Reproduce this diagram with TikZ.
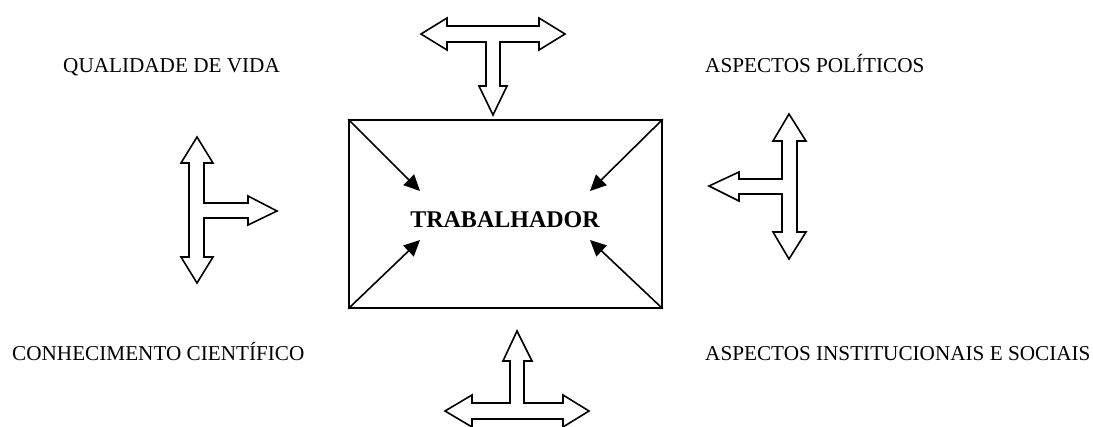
\documentclass[tikz,border=0pt]{standalone}
\usepackage{fontspec}
\setmainfont{Liberation Serif}
\usetikzlibrary{arrows.meta}
\begin{document}
\begin{tikzpicture}[x=1pt,y=-1pt,
  tarrow/.style={draw=black,line width=1.6pt,line join=miter,fill=white},
  lbl/.style={anchor=base west,inner sep=0pt,font=\fontsize{21.2}{25}\selectfont},
  diag/.style={line width=1.6pt,-{Triangle[length=16pt,width=15pt]}},
  mainbox/.style={draw=black,line width=1.6pt,inner sep=0pt,minimum width=313pt,minimum height=188pt}]
\useasboundingbox (0,0) rectangle (1093,426);
% labels
\node[lbl] (qv) at (63,72) {QUALIDADE DE VIDA};
\node[lbl] (ap) at (705,72) {ASPECTOS POLÍTICOS};
\node[lbl] (cc) at (12,360) {CONHECIMENTO CIENTÍFICO};
\node[lbl] (ai) at (705,360) {ASPECTOS INSTITUCIONAIS E SOCIAIS};
% central box
\node[mainbox] (box) at (505.5,214) {};
\node[anchor=base,inner sep=0pt,font=\fontsize{24}{28}\selectfont\bfseries] (trab) at (505,227) {TRABALHADOR};
\coordinate (enw) at (420,191);
\coordinate (ene) at (590,191);
\coordinate (esw) at (420,240);
\coordinate (ese) at (590,240);
\draw[diag] (box.north west) -- (enw);
\draw[diag] (box.north east) -- (ene);
\draw[diag] (box.south west) -- (esw);
\draw[diag] (box.south east) -- (ese);
% top T arrow
\draw[tarrow] (421,34) -- (447,18) -- (447,26) -- (539,26) -- (539,18) -- (565,34) -- (539,50) -- (539,42)
  -- (500,42) -- (500,86) -- (507,86) -- (493,115) -- (479,86) -- (486,86) -- (486,42) -- (447,42) -- (447,50) -- cycle;
% bottom T arrow
\draw[tarrow] (517,331) -- (532,361) -- (524,361) -- (524,403) -- (563,403) -- (563,395) -- (589,411) -- (563,427)
  -- (563,419) -- (472,419) -- (472,427) -- (445,411) -- (472,395) -- (472,403) -- (510,403) -- (510,361) -- (503,361) -- cycle;
% left T arrow
\draw[tarrow] (197,137) -- (213,163) -- (204,163) -- (204,203) -- (248,203) -- (248,196) -- (277,211) -- (248,225)
  -- (248,218) -- (204,218) -- (204,257) -- (213,257) -- (197,283) -- (181,257) -- (189,257) -- (189,163) -- (181,163) -- cycle;
% right T arrow
\draw[tarrow] (789,114) -- (806,141) -- (797,141) -- (797,232) -- (806,232) -- (789,259) -- (773,232) -- (782,232)
  -- (782,194) -- (739,194) -- (739,201) -- (709,186) -- (739,172) -- (739,179) -- (782,179) -- (782,141) -- (773,141) -- cycle;
\end{tikzpicture}
\end{document}
